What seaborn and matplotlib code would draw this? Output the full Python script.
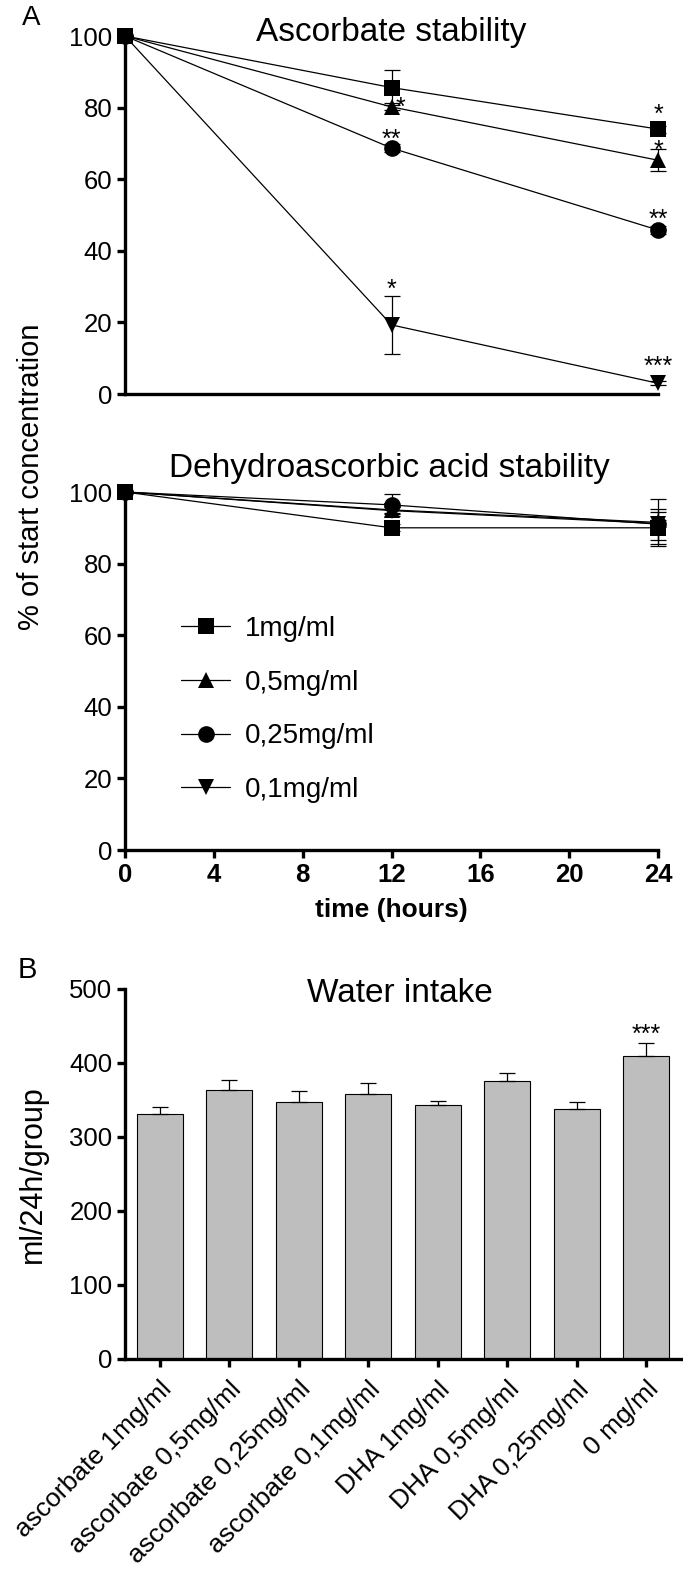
import matplotlib
matplotlib.use("Agg")
import matplotlib.pyplot as plt
import matplotlib.transforms as mtransforms
from matplotlib.lines import Line2D
import pandas as pd
import seaborn as sns

# time points (hours)
times = [0, 12, 24]
conc_labels = ["1mg/ml", "0,5mg/ml", "0,25mg/ml", "0,1mg/ml"]
conc_markers = ["s", "^", "o", "v"]

# ascorbate stability (% of start), mean and SEM
asc_1mg = [100, 85.6, 74.0]
asc_05mg = [100, 80.2, 65.3]
asc_025mg = [100, 68.7, 45.8]
asc_01mg = [100, 19.3, 3.0]
asc_1mg_err = [0, 4.9, 1.0]
asc_05mg_err = [0, 1.0, 3.0]
asc_025mg_err = [0, 1.0, 1.0]
asc_01mg_err = [0, 8.0, 0.5]

# dehydroascorbic acid stability
dha_1mg = [100, 90.0, 90.0]
dha_05mg = [100, 95.0, 91.5]
dha_025mg = [100, 96.4, 91.0]
dha_01mg = [100, 94.8, 91.2]
dha_1mg_err = [0, 1.0, 4.4]
dha_05mg_err = [0, 1.0, 6.5]
dha_025mg_err = [0, 3.0, 4.3]
dha_01mg_err = [0, 1.0, 1.0]

# significance marks in panel A (x, y of star centre, text)
asc_star_x = [12, 12.4, 12, 24, 24, 24, 24]
asc_star_y = [31, 82, 73, 80, 70, 50.5, 9.5]
asc_star_txt = ["*", "*", "**", "*", "*", "**", "***"]

# water intake
water_labels = ["ascorbate 1mg/ml", "ascorbate 0,5mg/ml", "ascorbate 0,25mg/ml",
                "ascorbate 0,1mg/ml", "DHA 1mg/ml", "DHA 0,5mg/ml",
                "DHA 0,25mg/ml", "0 mg/ml"]
water_mean = [331, 364, 347, 358, 343, 376, 338, 410]
water_err = [10, 13, 15, 15, 6, 10, 9, 17]
water_star_txt = ["", "", "", "", "", "", "", "***"]
water_star_y = 447


def long_df(series, errs):
    rows = []
    for lab, vals, ers in zip(conc_labels, series, errs):
        for t, v, e in zip(times, vals, ers):
            rows.append({"time": t, "pct": v, "err": e, "conc": lab})
    return pd.DataFrame(rows)


df_asc = long_df([asc_1mg, asc_05mg, asc_025mg, asc_01mg],
                 [asc_1mg_err, asc_05mg_err, asc_025mg_err, asc_01mg_err])
df_dha = long_df([dha_1mg, dha_05mg, dha_025mg, dha_01mg],
                 [dha_1mg_err, dha_05mg_err, dha_025mg_err, dha_01mg_err])
df_water = pd.DataFrame({"group": water_labels, "ml": water_mean, "err": water_err})

sns.set_style("ticks")
plt.rcParams["font.family"] = ["Liberation Sans", "DejaVu Sans"]
plt.rcParams.update({"text.color": "black", "axes.labelcolor": "black",
                     "xtick.color": "black", "ytick.color": "black",
                     "axes.edgecolor": "black"})

W, H = 683, 1575
fig = plt.figure(figsize=(W / 100, H / 100), dpi=100)


def px_axes(left, right, top, bottom):
    return fig.add_axes([left / W, 1 - bottom / H, (right - left) / W, (bottom - top) / H])


ax1 = px_axes(125, 658, 36, 394)
ax2 = px_axes(125, 658, 492, 850)
ax3 = px_axes(125, 681, 989, 1359)

SPINE_W = 2.4
TICK_FS = 18.5
MS = 12
marker_map = dict(zip(conc_labels, conc_markers))


def stability_panel(ax, df):
    sns.lineplot(data=df, x="time", y="pct", hue="conc", style="conc",
                 hue_order=conc_labels, style_order=conc_labels,
                 palette=["black"] * 4, markers=marker_map, dashes=False,
                 markersize=MS, markeredgecolor="black", markeredgewidth=0,
                 linewidth=0.9, legend=False, ax=ax)
    for lab in conc_labels:
        sub = df[df["conc"] == lab]
        ax.errorbar(sub["time"], sub["pct"], yerr=sub["err"], fmt="none",
                    ecolor="black", elinewidth=0.9, capsize=5.5, capthick=0.9,
                    clip_on=False, zorder=3)
    for ln in ax.lines:
        ln.set_clip_on(False)
    ax.set_xlim(0, 24)
    ax.set_ylim(0, 100)
    ax.set_yticks([0, 20, 40, 60, 80, 100])
    ax.set_xlabel("")
    ax.set_ylabel("")
    sns.despine(ax=ax)
    for s in ["left", "bottom"]:
        ax.spines[s].set_linewidth(SPINE_W)
    ax.tick_params(axis="y", length=6, width=SPINE_W, labelsize=TICK_FS, pad=3)


stability_panel(ax1, df_asc)
ax1.tick_params(axis="x", length=0, labelbottom=False)

star_tr = mtransforms.offset_copy(ax1.transData, fig=fig, y=-14, units="dots")
for x, y, t in zip(asc_star_x, asc_star_y, asc_star_txt):
    ax1.text(x, y, t, transform=star_tr, ha="center", va="baseline", fontsize=18)

stability_panel(ax2, df_dha)
ax2.set_xticks([0, 4, 8, 12, 16, 20, 24])
ax2.tick_params(axis="x", length=6, width=SPINE_W, labelsize=TICK_FS, pad=3)
for lbl in ax2.get_xticklabels():
    lbl.set_fontweight("bold")
ax2.set_xlabel("time (hours)", fontsize=19, fontweight="bold", labelpad=8)

handles = [Line2D([0], [0], color="black", lw=0.9, marker=m, markersize=MS,
                  markeredgewidth=0) for m in conc_markers]
ax2.legend(handles, conc_labels, frameon=False, loc="upper left",
           bbox_to_anchor=(0.085, 0.685), fontsize=20, handlelength=1.75,
           handletextpad=0.55, labelspacing=1.0, borderaxespad=0)

# water intake bars
sns.barplot(data=df_water, x="group", y="ml", color="#bebebe", edgecolor="black",
            linewidth=0.8, width=0.66, saturation=1, ax=ax3)
ax3.errorbar(range(len(water_mean)), water_mean,
             yerr=[[0] * len(water_err), water_err], fmt="none", ecolor="black",
             elinewidth=0.9, capsize=5.5, capthick=0.9, zorder=1)
ax3.set_xlim(-0.5, 7.5)
ax3.set_ylim(0, 500)
ax3.set_yticks([0, 100, 200, 300, 400, 500])
ax3.set_xlabel("")
ax3.set_ylabel("")
sns.despine(ax=ax3)
for s in ["left", "bottom"]:
    ax3.spines[s].set_linewidth(SPINE_W)
ax3.tick_params(axis="y", length=6, width=SPINE_W, labelsize=TICK_FS, pad=3)
ax3.tick_params(axis="x", length=6, width=SPINE_W, labelsize=19, pad=7)
ax3.set_xticks(range(len(water_labels)))
ax3.set_xticklabels(water_labels, rotation=45, ha="right", rotation_mode="anchor")
star_tr3 = mtransforms.offset_copy(ax3.transData, fig=fig, y=-14, units="dots")
for i, t in enumerate(water_star_txt):
    if t:
        ax3.text(i, water_star_y, t, transform=star_tr3, ha="center",
                 va="baseline", fontsize=18)

# titles and panel letters
fig.text(391 / W, 1 - 32 / H, "Ascorbate stability", ha="center", va="center", fontsize=24)
fig.text(389 / W, 1 - 468 / H, "Dehydroascorbic acid stability", ha="center",
         va="center", fontsize=24)
fig.text(400 / W, 1 - 994 / H, "Water intake", ha="center", va="center", fontsize=24)
fig.text(31 / W, 1 - 18 / H, "A", ha="center", va="center", fontsize=20)
fig.text(27 / W, 1 - 970 / H, "B", ha="center", va="center", fontsize=21)
fig.text(31 / W, 1 - 477 / H, "% of start concentration", rotation=90,
         ha="center", va="center", fontsize=21)
fig.text(33 / W, 1 - 1174 / H, "ml/24h/group", rotation=90,
         ha="center", va="center", fontsize=22)

fig.savefig("out.png", dpi=100)
